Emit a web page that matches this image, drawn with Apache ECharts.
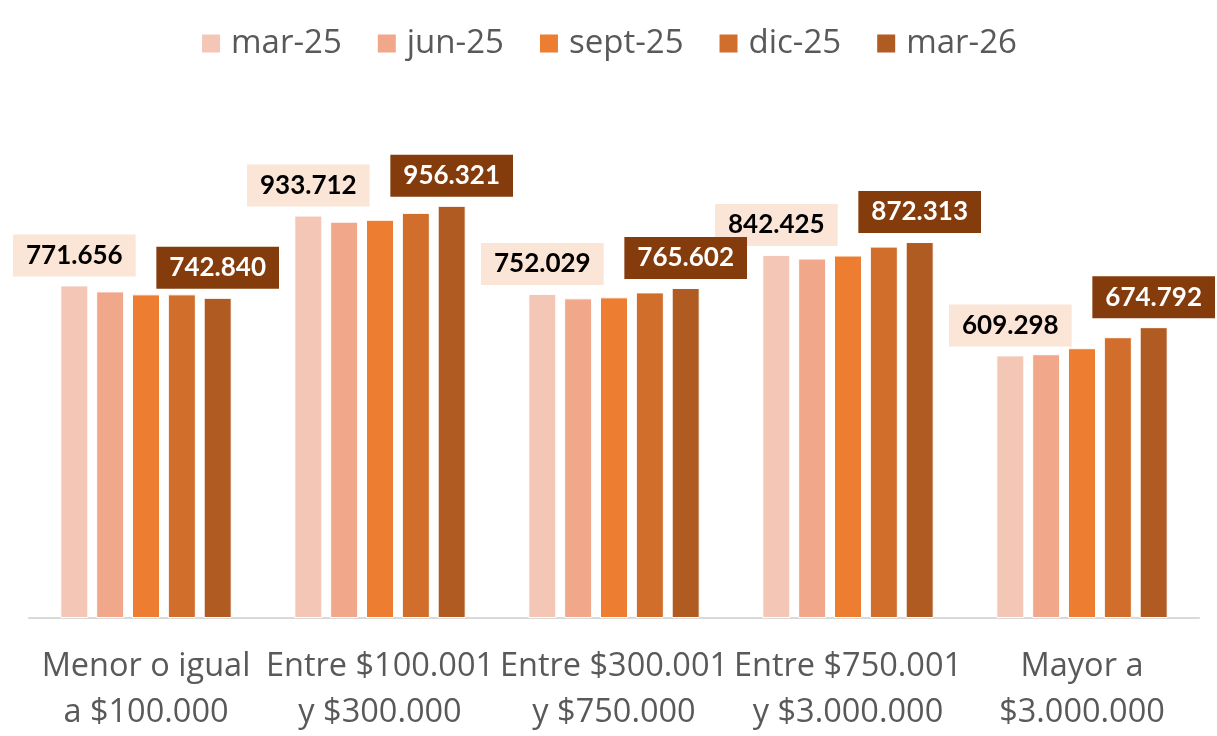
<!DOCTYPE html>
<html>
<head>
<meta charset="utf-8">
<script src="https://cdn.jsdelivr.net/npm/echarts@6/dist/echarts.min.js"></script>
<style>
html,body{margin:0;padding:0;background:#fff;}
#chart{width:1217px;height:736px;}
</style>
</head>
<body>
<div id="chart"></div>
<script>
var categories = ['Menor o igual\na $100.000', 'Entre $100.001\ny $300.000', 'Entre $300.001\ny $750.000', 'Entre $750.001\ny $3.000.000', 'Mayor a\n$3.000.000'];
var seriesNames = ['mar-25', 'jun-25', 'sept-25', 'dic-25', 'mar-26'];
var mar25 = [771.656, 933.712, 752.029, 842.425, 609.298];
var jun25 = [757.8, 919.5, 741.6, 834.0, 612.0];
var sept25 = [750.9, 924.0, 744.0, 841.0, 626.0];
var dic25 = [750.9, 940.0, 755.5, 861.7, 651.5];
var mar26 = [742.840, 956.321, 765.602, 872.313, 674.792];
var colors = ['#f4c6b6', '#f0a78a', '#ed7d31', '#d26e2b', '#b05b22'];

var textFont = '"Open Sans", Lato, sans-serif';
var labelFont = 'Lato, "Open Sans", sans-serif';
var chart = echarts.init(document.getElementById('chart'));

function fmt(p) {
    return p.value.toFixed(3);
}

function makeSeries(name, data, idx) {
    var s = {
        name: name,
        type: 'bar',
        barWidth: 28,
        barGap: '28%',
        data: data,
        itemStyle: {
            color: colors[idx],
            borderColor: '#ffffff',
            borderWidth: 1
        },
        emphasis: { disabled: true }
    };
    if (idx === 0) {
        s.label = {
            show: true,
            position: 'top',
            distance: 9,
            formatter: fmt,
            color: '#000000',
            fontFamily: labelFont,
            fontWeight: 'bold',
            fontSize: 26,
            backgroundColor: '#fbe5d6',
            padding: [8, 13, 8, 13]
        };
    }
    if (idx === 4) {
        s.label = {
            show: true,
            position: 'top',
            distance: 9,
            formatter: fmt,
            color: '#ffffff',
            fontFamily: labelFont,
            fontWeight: 'bold',
            fontSize: 26,
            backgroundColor: '#843c0c',
            padding: [8, 13, 8, 13]
        };
    }
    return s;
}

var option = {
    animation: false,
    legend: {
        top: 22,
        left: 'center',
        itemWidth: 20,
        itemHeight: 20,
        itemGap: 34,
        icon: 'rect',
        textStyle: {
            color: '#595959',
            fontSize: 33,
            fontFamily: textFont,
            padding: [0, 0, 0, 5]
        },
        data: seriesNames
    },
    grid: {
        left: 29,
        right: 18,
        top: 187,
        bottom: 116,
        containLabel: false
    },
    xAxis: {
        type: 'category',
        data: categories,
        axisLine: { lineStyle: { color: '#d9d9d9', width: 2 } },
        axisTick: { show: false },
        axisLabel: {
            color: '#595959',
            fontSize: 32.5,
            fontFamily: textFont,
            lineHeight: 46,
            margin: 26,
            interval: 0
        }
    },
    yAxis: {
        type: 'value',
        min: 0,
        max: 1000,
        show: false,
        splitLine: { show: false }
    },
    series: [
        makeSeries(seriesNames[0], mar25, 0),
        makeSeries(seriesNames[1], jun25, 1),
        makeSeries(seriesNames[2], sept25, 2),
        makeSeries(seriesNames[3], dic25, 3),
        makeSeries(seriesNames[4], mar26, 4)
    ]
};
chart.setOption(option);
</script>
</body>
</html>
